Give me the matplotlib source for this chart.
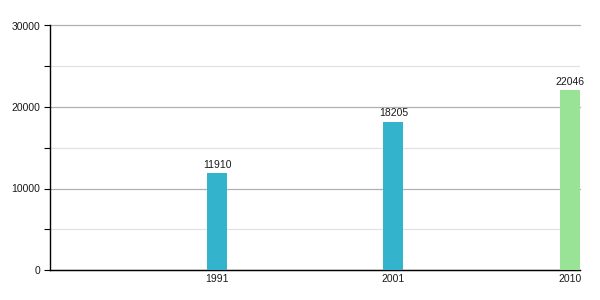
import matplotlib
matplotlib.use("Agg")
import matplotlib.pyplot as plt
from matplotlib.ticker import MultipleLocator

years = ["1991", "2001", "2010"]
values = [11910, 18205, 22046]
colors = ["#33b4cc", "#33b4cc", "#98e396"]

plt.rcParams['font.family'] = ['Liberation Sans', 'DejaVu Sans']
fig = plt.figure(figsize=(6, 3), dpi=100)
ax = fig.add_axes([50/600, 1-270/300, 530/600, (270-25.5)/300])

x = list(range(len(years)))
bars = ax.bar(x, values, width=0.113, color=colors, zorder=3)
for xi, v in zip(x, values):
    ax.text(xi, v + 400, str(v), ha='center', va='bottom', fontsize=7.5, color='#1a1a1a')

ax.set_xlim(-0.946, 2.057)
ax.set_ylim(0, 30000)
ax.yaxis.set_major_locator(MultipleLocator(10000))
ax.yaxis.set_minor_locator(MultipleLocator(5000))
ax.grid(which='major', axis='y', color='#b0b0b0', linewidth=0.9, zorder=0)
ax.grid(which='minor', axis='y', color='#e2e2e2', linewidth=0.9, zorder=0)
ax.set_xticks(x)
ax.set_xticklabels(years)
ax.tick_params(axis='x', length=0, pad=3, labelsize=7.5, colors='#1a1a1a')
ax.tick_params(axis='y', which='both', length=4, width=0.8, labelsize=7.5, colors='#1a1a1a', pad=3)
ax.tick_params(axis='y', which='both', color='black')
for s in ['top', 'right']:
    ax.spines[s].set_visible(False)
for s in ['left', 'bottom']:
    ax.spines[s].set_color('black')
    ax.spines[s].set_linewidth(1)

fig.canvas.draw()
for gl in ax.get_ygridlines():
    gl.set_clip_on(False)

fig.savefig("out.png", dpi=100)
